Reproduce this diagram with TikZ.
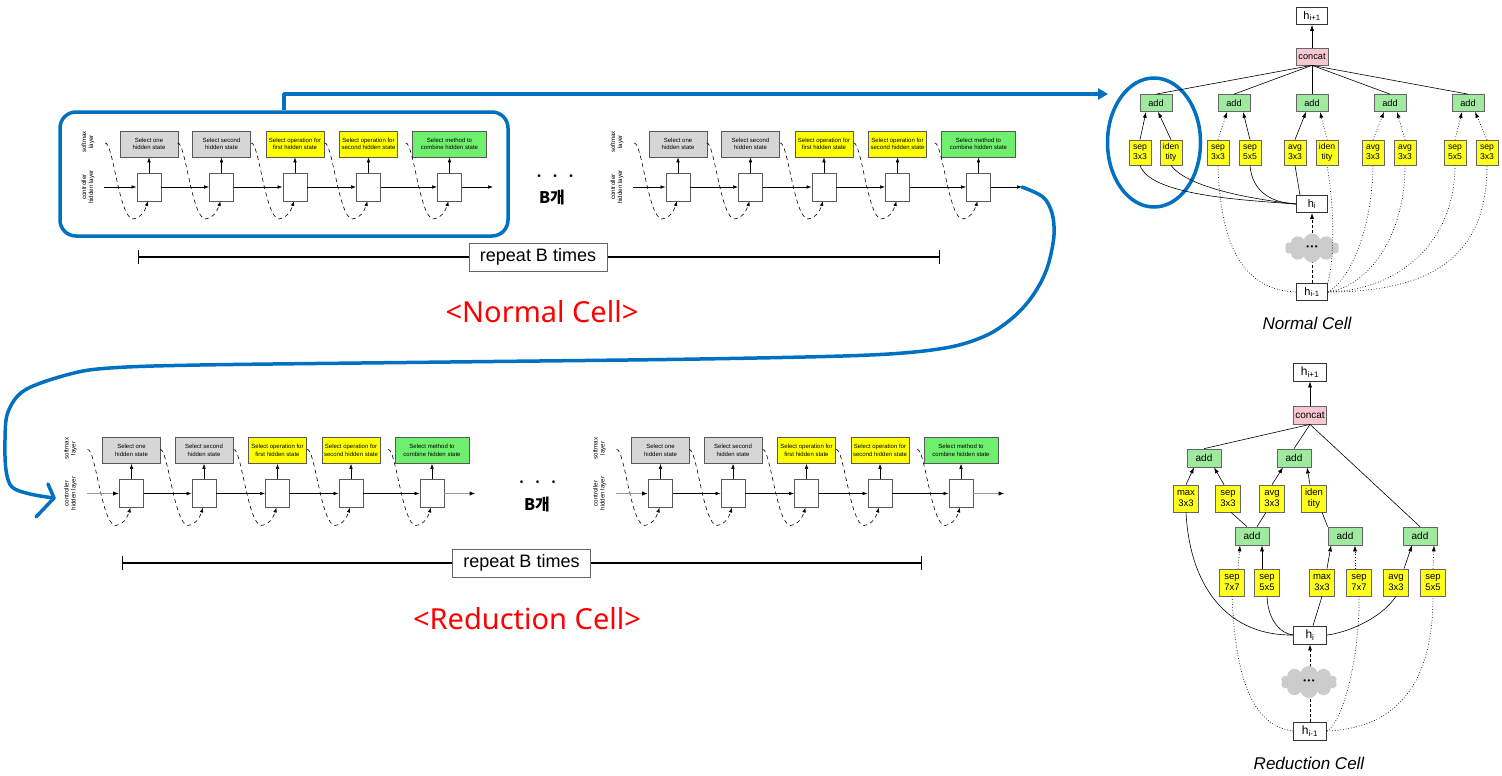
\documentclass[tikz,border=0pt]{standalone}
\usepackage{fontspec}
\setmainfont{Liberation Sans}
\newfontfamily\kr{Noto Sans CJK KR}
\newfontfamily\nsans{Noto Sans}
\usetikzlibrary{arrows.meta,shapes.geometric,shapes.symbols}
\definecolor{bblue}{RGB}{0,112,192}
\definecolor{smgray}{RGB}{214,214,214}
\definecolor{smyel}{RGB}{255,255,0}
\definecolor{smgrn}{RGB}{110,240,110}
\definecolor{addgrn}{RGB}{160,234,160}
\definecolor{opyel}{RGB}{255,255,30}
\definecolor{catpink}{RGB}{248,200,210}
\definecolor{cloudg}{RGB}{204,204,204}
\tikzset{
 smbox/.style={draw=black!65, line width=0.7pt, minimum width=58pt, minimum height=26pt, inner sep=0pt, align=center, font=\fontsize{6}{7.5}\selectfont},
 hidbox/.style={draw=black!65, line width=0.9pt, fill=white, minimum width=24pt, minimum height=28pt, inner sep=0pt},
 arr/.style={line width=0.6pt, -{Latex[length=5pt,width=3.6pt]}},
 dsh/.style={line width=0.6pt, dash pattern=on 4pt off 3.5pt, -{Latex[length=5pt,width=3.6pt]}},
 grayin/.style={line width=1.8pt, draw=black!40, -{Latex[length=6pt,width=4.5pt,color=black]}},
 lbl/.style={rotate=90, align=center, font=\fontsize{6.2}{6.8}\selectfont},
 opb/.style={draw=black!60, fill=opyel, line width=0.7pt, minimum width=22pt, minimum height=25pt, inner sep=0pt, align=center, font=\fontsize{8.6}{9.6}\selectfont},
 addb/.style={draw=black!60, fill=addgrn, line width=0.7pt, minimum width=32pt, minimum height=17pt, inner sep=0pt, font=\fontsize{9.2}{9.2}\selectfont},
 hb/.style={draw=black!80, fill=white, line width=0.7pt, minimum width=31pt, minimum height=17pt, inner sep=0pt, font=\fontsize{11}{11}\selectfont},
 catb/.style={draw=black!60, fill=catpink, line width=0.7pt, minimum width=32pt, minimum height=17pt, inner sep=0pt, font=\fontsize{9.2}{9.2}\selectfont},
 ropb/.style={opb, minimum width=25pt, minimum height=27pt, font=\fontsize{9.5}{10.5}\selectfont},
 raddb/.style={addb, minimum width=34pt, minimum height=18pt, font=\fontsize{10}{10}\selectfont},
 rhb/.style={hb, minimum width=33pt, minimum height=18pt, font=\fontsize{12}{12}\selectfont},
 rcatb/.style={catb, minimum width=33pt, minimum height=18pt, font=\fontsize{10}{10}\selectfont},
 carr/.style={line width=0.6pt, -{Latex[length=6pt,width=4pt]}},
 cln/.style={line width=0.6pt},
 cdot/.style={line width=0.7pt, dotted},
 cdarr/.style={line width=0.7pt, dotted, -{Latex[length=6pt,width=4pt]}},
 hdash/.style={line width=0.8pt, dash pattern=on 3pt off 2pt, -{Latex[length=6pt,width=4pt]}},
 cl/.style={cloud, cloud puffs=10, cloud ignores aspect, fill=cloudg, draw=none, inner sep=0pt, font=\fontsize{8}{8}\selectfont},
 redlab/.style={font=\nsans\fontsize{29}{29}\selectfont, text=red},
 rep/.style={draw=black!60, line width=0.8pt, fill=white, minimum width=138pt, minimum height=28pt, inner sep=0pt, font=\fontsize{18}{18}\selectfont},
 repline/.style={line width=1.3pt, {Bar[width=14pt]}-{Bar[width=14pt]}},
 bk/.style={font=\kr\bfseries\fontsize{16}{16}\selectfont},
 dotsn/.style={font=\fontsize{10}{10}\selectfont},
 bluel/.style={draw=bblue, line width=3.5pt, line cap=round, line join=round},
 celltitle/.style={font=\itshape\fontsize{17}{17}\selectfont},
}
\newcommand\ctrlrow[4]{%
\begin{scope}[shift={(#1,#2)}]
 \node[lbl] (#3la) at (88,142) {softmax\\layer};
 \node[lbl] (#3lb) at (88,187) {controller\\hidden layer};
 \node[smbox,fill=smgray] (#3s1) at (149,144) {Select one\\hidden state};
 \node[smbox,fill=smgray] (#3s2) at (221.5,144) {Select second\\hidden state};
 \node[smbox,fill=smyel] (#3s3) at (295,144) {Select operation for\\first hidden state};
 \node[smbox,fill=smyel] (#3s4) at (368.5,144) {Select operation for\\second hidden state};
 \node[smbox,fill=smgrn,minimum width=74pt] (#3s5) at (449.5,144) {Select method to\\combine hidden state};
 \foreach \i/\x in {1/149,2/221.5,3/295,4/368.5,5/449.5} {
   \draw[dsh] (\x-44,143) .. controls (\x-36,141) and (\x-30,218) .. (\x-16,219) .. controls (\x-9,219) and (\x-4,211) .. (\x-1,201);
   \node[hidbox] (#3h\i) at (\x,187) {};
 }
 \foreach \i in {1,...,5} {\draw[arr] (#3h\i) -- (#3s\i);}
 \foreach \i/\j in {1/2,2/3,3/4,4/5} {\draw[arr] (#3h\i) -- (#3h\j);}
 \coordinate (#3in) at (104,187);
 \coordinate (#3out) at (493,187);
 \draw[#4] (#3in) -- (#3h1);
 \draw[#4] (#3h5) -- (#3out);
\end{scope}}
\begin{document}
\begin{tikzpicture}[x=1pt,y=-1pt]
\useasboundingbox (0,0) rectangle (1502,776);
\fill[white] (0,0) rectangle (1502,776);

% controller rows
\ctrlrow{0}{0}{ra}{arr}
\ctrlrow{529}{0}{rb}{arr}
\ctrlrow{-17.5}{306.5}{rc}{grayin}
\ctrlrow{511.5}{306.5}{rd}{grayin}

% B gae
\node[dotsn] (dt1) at (555,177) {•\hspace{12.5pt}•\hspace{12.5pt}•};
\node[bk] (bk1) at (552,197) {B개};
\node[dotsn] (dt2) at (537.5,483) {•\hspace{12.5pt}•\hspace{12.5pt}•};
\node[bk] (bk2) at (537,504) {B개};

% repeat B times
\coordinate (rl1) at (138,257); \coordinate (rr1) at (940,257);
\draw[repline] (rl1) -- (rr1);
\node[rep] (rep1) at (538,257) {repeat B times};
\coordinate (rl2) at (122,563); \coordinate (rr2) at (922,563);
\draw[repline] (rl2) -- (rr2);
\node[rep] (rep2) at (521.5,563) {repeat B times};

% red labels
\node[redlab] (lab1) at (542,312) {<Normal Cell>};
\node[redlab] (lab2) at (527,619) {<Reduction Cell>};

% blue highlight
\node[draw=bblue, line width=3.5pt, rounded corners=16pt, minimum width=448pt, minimum height=124pt, inner sep=0pt] (hl) at (284,174) {};
\coordinate (bt) at (1108,94);
\draw[bluel, line cap=butt, -{Triangle[length=10pt,width=11pt]}] (hl.north) |- (bt);
\node[ellipse, draw=bblue, line width=3.5pt, minimum width=93pt, minimum height=129pt, inner sep=0pt] (circ) at (1154,142.5) {};

% freehand blue
\coordinate (bend) at (54,498);
\draw[bluel] plot[smooth, tension=0.55] coordinates {(rbout) (1043,197) (1052,213) (1054,235) (1049,262) (1041,282) (1028,302) (1010,320) (985,336) (945,348) (870,355) (700,359) (450,362) (200,365) (110,368) (70,374) (25,390) (8,412) (5,440) (6,470) (12,487) (30,494) (bend)};
\draw[bluel] (48,484) -- (bend) -- (36,517);

% ================= Normal cell
\node[hb] (nhp) at (1312,16) {h\textsubscript{i+1}};
\node[catb] (ncat) at (1312,56.5) {concat};
\draw[carr] (ncat) -- (nhp);
\foreach \i/\x in {1/1156,2/1234,3/1312,4/1390,5/1468} {
  \node[addb] (nadd\i) at (\x,103) {add};
  \draw[cln] (ncat.south) -- (nadd\i.north);
}
\node[opb] (nop1) at (1140,152.5) {sep\\3x3};
\node[opb] (nop2) at (1171,152.5) {iden\\tity};
\node[opb] (nop3) at (1218,152.5) {sep\\3x3};
\node[opb] (nop4) at (1250,152.5) {sep\\5x5};
\node[opb] (nop5) at (1295,152.5) {avg\\3x3};
\node[opb] (nop6) at (1327,152.5) {iden\\tity};
\node[opb] (nop7) at (1373,152.5) {avg\\3x3};
\node[opb] (nop8) at (1405,152.5) {avg\\3x3};
\node[opb] (nop9) at (1455,152.5) {sep\\5x5};
\node[opb] (nop10) at (1487,152.5) {sep\\3x3};
\draw[carr] (nop1.north) -- ([xshift=-10pt]nadd1.south);
\draw[carr] (nop2.north) -- ([xshift=2pt]nadd1.south);
\draw[cdarr] (nop3.north) -- ([xshift=-7pt]nadd2.south);
\draw[carr] (nop4.north) -- ([xshift=9pt]nadd2.south);
\draw[carr] (nop5.north) -- ([xshift=-6pt]nadd3.south);
\draw[cdarr] (nop6.north) -- ([xshift=8pt]nadd3.south);
\draw[cdarr] (nop7.north) -- ([xshift=-6pt]nadd4.south);
\draw[cdarr] (nop8.north) -- ([xshift=7pt]nadd4.south);
\draw[cdarr] (nop9.north) -- ([xshift=-6pt]nadd5.south);
\draw[cdarr] (nop10.north) -- ([xshift=7pt]nadd5.south);

\node[hb] (nhi) at (1312,204) {h\textsubscript{i}};
\node[hb] (nhm) at (1312,292) {h\textsubscript{i-1}};
\draw[hdash] (nhm) -- (nhi);
\node[cl, minimum width=54pt, minimum height=29pt] (ncl) at (1312,248) {•\hspace{1.5pt}•\hspace{1.5pt}•};

\draw[cln] (nop1.south) .. controls (1150,195) and (1240,200) .. (nhi.west);
\draw[cln] (nop2.south) .. controls (1185,185) and (1240,198) .. (nhi.west);
\draw[cln] (nop4.south) .. controls (1252,192) and (1272,203) .. (nhi.west);
\draw[cln] (nop5.south) -- ([xshift=-12pt]nhi.north);
\draw[cdot] (nhm.west) .. controls (1240,290) and (1220,240) .. (nop3.south);
\draw[cdot] (nhm.north east) .. controls (1336,250) and (1333,200) .. (nop6.south);
\draw[cdot] (nhm.east) .. controls (1350,280) and (1372,230) .. (nop7.south);
\draw[cdot] (nhm.east) .. controls (1372,285) and (1405,232) .. (nop8.south);
\draw[cdot] (nhm.east) .. controls (1402,290) and (1455,240) .. (nop9.south);
\draw[cdot] (nhm.east) .. controls (1440,292) and (1487,250) .. (nop10.south);
\node[celltitle] (nct) at (1307,323) {Normal Cell};

% ================= Reduction cell
\node[rhb] (rhp) at (1310,372) {h\textsubscript{i+1}};
\node[rcatb] (rcat) at (1310,415) {concat};
\draw[carr] (rcat) -- (rhp);
\node[raddb] (radd1) at (1204,458) {add};
\node[raddb] (radd2) at (1294,458) {add};
\node[raddb] (radd3) at (1252,536) {add};
\node[raddb] (radd4) at (1345,536) {add};
\node[raddb] (radd5) at (1420,536) {add};
\draw[cln] (rcat.south) -- (radd1.north);
\draw[cln] (rcat.south) -- (radd2.north);
\draw[cln] (rcat.south) -- (radd5.north);
\node[ropb] (rop1) at (1186,498.5) {max\\3x3};
\node[ropb] (rop2) at (1228,498.5) {sep\\3x3};
\node[ropb] (rop3) at (1272,498.5) {avg\\3x3};
\node[ropb] (rop4) at (1314,498.5) {iden\\tity};
\draw[carr] (rop1.north) -- ([xshift=-10pt]radd1.south);
\draw[carr] ([xshift=-4pt]rop2.north) -- ([xshift=10pt]radd1.south);
\draw[carr] (rop3.north) -- ([xshift=-11pt]radd2.south);
\draw[carr] ([xshift=-4pt]rop4.north) -- ([xshift=13pt]radd2.south);
\draw[cln] ([xshift=3pt]rop2.south) -- ([xshift=-5pt]radd3.north);
\draw[cln] ([xshift=-6pt]rop3.south) -- ([xshift=5pt]radd3.north);
\draw[cln] ([xshift=8pt]rop4.south) -- (radd4.north west);
\node[ropb] (rq1) at (1232,582.5) {sep\\7x7};
\node[ropb] (rq2) at (1267,582.5) {sep\\5x5};
\node[ropb] (rq3) at (1322,582.5) {max\\3x3};
\node[ropb] (rq4) at (1359,582.5) {sep\\7x7};
\node[ropb] (rq5) at (1396,582.5) {avg\\3x3};
\node[ropb] (rq6) at (1433,582.5) {sep\\5x5};
\draw[cdarr] ([xshift=6pt]rq1.north) -- ([xshift=-12pt]radd3.south);
\draw[carr] ([xshift=-5pt]rq2.north) -- ([xshift=10pt]radd3.south);
\draw[carr] ([xshift=5pt]rq3.north) -- ([xshift=-14pt]radd4.south);
\draw[cdarr] ([xshift=-4pt]rq4.north) -- ([xshift=10pt]radd4.south);
\draw[carr] ([xshift=8pt]rq5.north) -- ([xshift=-8pt]radd5.south);
\draw[cdarr] (rq6.north) -- ([xshift=14pt]radd5.south);

\node[rhb] (rhi) at (1310,635) {h\textsubscript{i}};
\node[rhb] (rhm) at (1310,731) {h\textsubscript{i-1}};
\draw[hdash] (rhm) -- (rhi);
\node[cl, minimum width=56pt, minimum height=32pt] (rcl) at (1309,682) {•\hspace{1.5pt}•\hspace{1.5pt}•};

\draw[cln] (rop1.south) .. controls (1190,590) and (1230,636) .. (rhi.west);
\draw[cln] (rq2.south) .. controls (1268,622) and (1282,634) .. (rhi.west);
\draw[cln] (rq3.south) -- ([xshift=3pt]rhi.north);
\draw[cln] (rq5.south) .. controls (1380,620) and (1345,633) .. (rhi.east);
\draw[cdot] (rhm.west) .. controls (1245,725) and (1235,660) .. (rq1.south);
\draw[cdot] (rhm.east) .. controls (1345,720) and (1360,650) .. (rq4.south);
\draw[cdot] (rhm.east) .. controls (1400,728) and (1433,680) .. (rq6.south);
\node[celltitle] (rct) at (1309,763) {Reduction Cell};
\end{tikzpicture}
\end{document}
